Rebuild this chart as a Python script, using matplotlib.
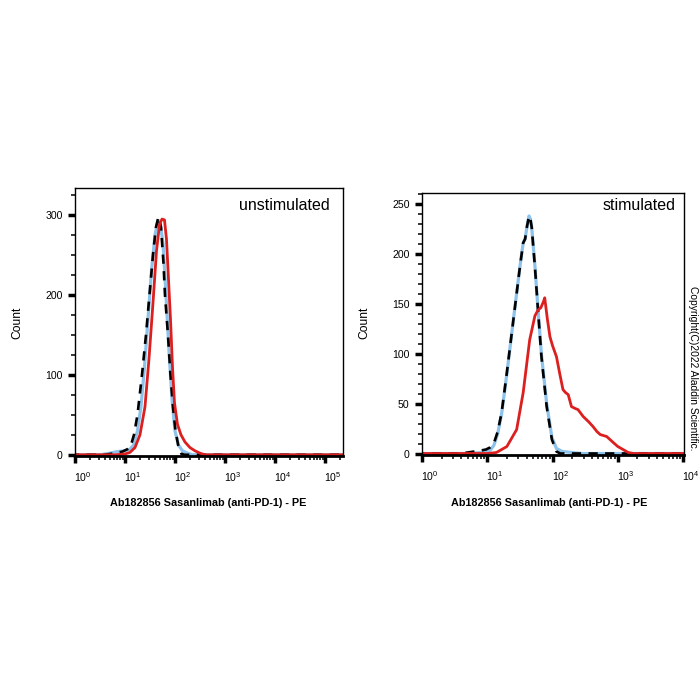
import numpy as np
import matplotlib
matplotlib.use("Agg")
import matplotlib.pyplot as plt
import matplotlib.transforms as mtransforms
from matplotlib.ticker import MultipleLocator, LogLocator, NullFormatter

plt.rcParams['font.family'] = ['Liberation Sans', 'DejaVu Sans']
plt.rcParams['mathtext.fontset'] = 'custom'
plt.rcParams['mathtext.rm'] = 'Liberation Sans'
plt.rcParams['mathtext.it'] = 'Liberation Sans:italic'
plt.rcParams['mathtext.bf'] = 'Liberation Sans:bold'

# --- unstimulated panel (x given as log10 of PE intensity) ---
unstim_black_log = [-0.1, 0.6, 0.8, 0.95, 1.05, 1.11, 1.18, 1.25, 1.34, 1.42, 1.49, 1.56, 1.62, 1.67,
                    1.72, 1.77, 1.80, 1.86, 1.91, 1.96, 2.01, 2.07, 2.13, 2.2, 5.5]
unstim_black = [0, 0, 2, 4, 7, 10, 25, 50, 100, 150, 200, 250, 285, 298,
                285, 240, 200, 150, 100, 60, 30, 10, 1, 0, 0]

unstim_blue_log = [-0.1, 0.5, 0.7, 0.85, 1.0, 1.1, 1.17, 1.25, 1.32, 1.39, 1.46, 1.53, 1.6, 1.66,
                   1.7, 1.76, 1.82, 1.88, 1.94, 2.0, 2.07, 2.15, 2.25, 2.35, 5.5]
unstim_blue = [0, 0, 2, 4, 5, 7, 12, 30, 60, 110, 170, 230, 275, 293,
               292, 265, 200, 130, 70, 30, 12, 5, 2, 0, 0]

unstim_red_log = [-0.1, 0.8, 1.0, 1.1, 1.2, 1.3, 1.4, 1.48, 1.56, 1.63, 1.69, 1.74, 1.79, 1.83,
                  1.87, 1.91, 1.95, 1.99, 2.05, 2.12, 2.2, 2.3, 2.4, 2.5, 2.6, 5.5]
unstim_red = [0, 0, 1, 3, 9, 25, 60, 120, 190, 255, 288, 295, 294, 270,
              220, 170, 110, 65, 38, 25, 16, 9, 5, 2, 0, 0]

# --- stimulated panel ---
stim_black_log = [-0.1, 0.6, 0.8, 0.9, 0.98, 1.04, 1.1, 1.16, 1.22, 1.3, 1.4, 1.5, 1.55, 1.58,
                  1.61, 1.64, 1.66, 1.68, 1.73, 1.78, 1.83, 1.91, 1.99, 2.06, 2.12, 4.2]
stim_black = [0, 0, 2, 3, 4, 6, 10, 22, 41, 81, 134, 187, 211, 215,
              228, 238, 235, 227, 187, 141, 97, 47, 14, 2, 0, 0]

stim_blue_log = [-0.1, 0.7, 0.9, 1.04, 1.1, 1.16, 1.22, 1.3, 1.4, 1.5, 1.55, 1.58, 1.61, 1.64,
                 1.66, 1.68, 1.73, 1.78, 1.83, 1.91, 1.99, 2.06, 2.15, 2.3, 2.45, 4.2]
stim_blue = [0, 0, 1, 3, 8, 20, 40, 80, 134, 187, 211, 215, 228, 238,
             235, 227, 188, 142, 99, 50, 16, 5, 2, 1, 0, 0]

stim_red_log = [-0.1, 1.0, 1.14, 1.3, 1.45, 1.55, 1.65, 1.73, 1.78, 1.82, 1.86, 1.88, 1.92, 1.96,
                2.0, 2.06, 2.11, 2.16, 2.2, 2.24, 2.29, 2.35, 2.39, 2.47, 2.55, 2.62, 2.68, 2.73,
                2.78, 2.83, 2.93, 3.0, 3.08, 3.16, 3.24, 4.2]
stim_red = [0, 0, 1, 7, 24, 61, 114, 138, 144, 146, 152, 156, 135, 117,
            108, 97, 80, 64, 61, 59, 47, 45, 44, 37, 32, 27, 22, 19,
            18, 17, 11, 7, 4, 1, 0, 0]

red = '#dc1f1f'
blue = '#8dc2ea'

fig = plt.figure(figsize=(7, 7), dpi=100)
ax1 = fig.add_axes([0.1071, 0.3486, 0.3829, 0.3829])
ax2 = fig.add_axes([0.6029, 0.35, 0.3743, 0.3743])


def draw_panel(ax, blk_x, blk_y, blu_x, blu_y, red_x, red_y, xmax, ymax, major, minor, title, title_x, title_y):
    ax.plot(10 ** np.array(blu_x), blu_y, color=blue, lw=2.3, solid_capstyle='round')
    ax.plot(10 ** np.array(blk_x), blk_y, color='black', lw=1.9, linestyle=(0, (3.5, 2.8)))
    ax.plot(10 ** np.array(red_x), red_y, color=red, lw=2.0)
    ax.set_xscale('log')
    ax.set_xlim(1, xmax)
    ax.set_ylim(-1.5, ymax)
    ax.xaxis.set_major_locator(LogLocator(base=10))
    ax.xaxis.set_minor_locator(LogLocator(base=10, subs=np.arange(2, 10)))
    ax.xaxis.set_minor_formatter(NullFormatter())
    ax.yaxis.set_major_locator(MultipleLocator(major))
    ax.yaxis.set_minor_locator(MultipleLocator(minor))
    ax.tick_params(which='major', direction='out', length=5, width=2.5, labelsize=7.6, pad=4)
    ax.tick_params(axis='x', which='major', labelsize=7.6, pad=5.5)
    ax.tick_params(which='minor', direction='out', length=3, width=1.1)
    for s in ['top', 'right', 'left']:
        ax.spines[s].set_linewidth(1.0)
    ax.spines['bottom'].set_linewidth(2.0)
    shift = mtransforms.ScaledTranslation(-1 / 100, 0, fig.dpi_scale_trans)
    for lab in ax.get_xticklabels():
        lab.set_ha('left')
        lab.set_transform(lab.get_transform() + shift)
    ax.set_ylabel('Count', fontsize=8.7)
    ax.set_xlabel('Ab182856 Sasanlimab (anti-PD-1) - PE', fontsize=7.8, fontweight='bold')
    ax.text(title_x, title_y, title, transform=ax.transAxes, ha='right', va='center', fontsize=11.5)


draw_panel(ax1, unstim_black_log, unstim_black, unstim_blue_log, unstim_blue,
           unstim_red_log, unstim_red, 10 ** 5.36, 334, 100, 25, 'unstimulated', 0.951, 0.936)
ax1.yaxis.set_label_coords(-0.194, 0.498)
ax1.xaxis.set_label_coords(0.496, -0.157)

draw_panel(ax2, stim_black_log, stim_black, stim_blue_log, stim_blue,
           stim_red_log, stim_red, 10 ** 4.015, 261, 50, 10, 'stimulated', 0.966, 0.954)
ax2.yaxis.set_label_coords(-0.198, 0.506)
ax2.xaxis.set_label_coords(0.487, -0.165)

fig.text(0.99, 0.474, 'Copyright(C)2022 Aladdin Scientific.', rotation=270,
         ha='center', va='center', fontsize=7.4)

fig.savefig('out.png', dpi=100, facecolor='white')
